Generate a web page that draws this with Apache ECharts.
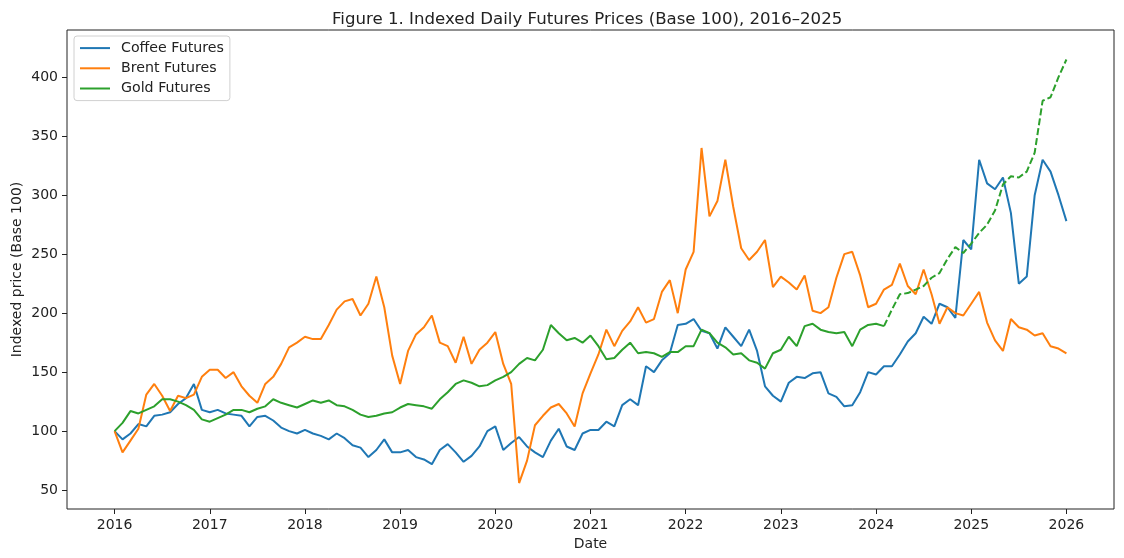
<!DOCTYPE html>
<html>
<head>
<meta charset="utf-8">
<title>Indexed Daily Futures Prices</title>
<script src="https://cdn.jsdelivr.net/npm/echarts@6/dist/echarts.min.js"></script>
<style>
  html, body { margin: 0; padding: 0; background: #fff; }
  #chart { width: 1124px; height: 558px; }
</style>
</head>
<body>
<div id="chart"></div>
<script>
// readings, one per month (Jan 2016 .. Jan 2026), base 100
const startYear = 2016;
const yearTicks = [2016, 2017, 2018, 2019, 2020, 2021, 2022, 2023, 2024, 2025, 2026];
const priceTicks = [50, 100, 150, 200, 250, 300, 350, 400];

const coffee = [
  100, 93, 98, 106, 104, 113, 114, 116, 123, 128, 140, 118,
  116, 118, 115, 114, 113, 104, 112, 113, 109, 103, 100, 98,
  101, 98, 96, 93, 98, 94, 88, 86, 78, 84, 93, 82,
  82, 84, 78, 76, 72, 84, 89, 82, 74, 79, 87, 100,
  104, 84, 90, 95, 87, 82, 78, 92, 102, 87, 84, 98,
  101, 101, 108, 104, 122, 127, 122, 155, 150, 160, 166, 190,
  191, 195, 185, 183, 170, 188, 180, 172, 186, 168, 138, 130,
  125, 141, 146, 145, 149, 150, 132, 129, 121, 122, 133, 150,
  148, 155, 155, 165, 176, 183, 197, 191, 208, 205, 196, 262,
  254, 330, 310, 305, 315, 285, 225, 231, 300, 330, 320, 300,
  278
];

const brent = [
  100, 82, 92, 102, 131, 140, 130, 117, 130, 128, 131, 146,
  152, 152, 145, 150, 138, 130, 124, 140, 146, 157, 171, 175,
  180, 178, 178, 190, 203, 210, 212, 198, 208, 231, 205, 164,
  140, 168, 182, 188, 198, 175, 172, 158, 180, 157, 169, 175,
  184, 157, 140, 56, 75, 105, 113, 120, 123, 115, 104, 132,
  149, 165, 186, 172, 185, 193, 205, 192, 195, 218, 228, 200,
  237, 252, 340, 282, 295, 330, 290, 255, 245, 252, 262, 222,
  231, 226, 220, 232, 202, 200, 205, 230, 250, 252, 232, 205,
  208, 220, 224, 242, 223, 216, 237, 216, 191, 205, 200, 198,
  208, 218, 192, 177, 168, 195, 188, 186, 181, 183, 172, 170,
  166
];

const gold = [
  100, 107, 117, 115, 118, 121, 127, 127, 125, 122, 118, 110,
  108, 111, 114, 118, 118, 116, 119, 121, 127, 124, 122, 120,
  123, 126, 124, 126, 122, 121, 118, 114, 112, 113, 115, 116,
  120, 123, 122, 121, 119, 127, 133, 140, 143, 141, 138, 139,
  143, 146, 150, 157, 162, 160, 169, 190, 183, 177, 179, 175,
  181, 172, 161, 162, 169, 175, 166, 167, 166, 163, 167, 167,
  172, 172, 186, 183, 175, 171, 165, 166, 160, 158, 153, 166,
  169, 180, 172, 189, 191, 186, 184, 183, 184, 172, 186, 190,
  191, 189, 203, 216, 217, 220, 223, 230, 234, 246, 256, 251,
  259, 268, 275, 287, 309, 316, 315, 320, 336, 380, 383, 400,
  415
];

// gold series has many missing days from Feb 2024, so it shows broken up
const goldGapsFrom = 97;

const colors = { coffee: '#1f77b4', brent: '#ff7f0e', gold: '#2ca02c' };
const textColor = '#222';
const font = 'DejaVu Sans';

const toPoints = arr => arr.map((v, i) => [startYear + i / 12, v]);
const goldPts = toPoints(gold);

const lineSeries = (name, data, color, type) => ({
  name: name,
  type: 'line',
  data: data,
  symbol: 'none',
  showSymbol: false,
  lineStyle: { width: 2, color: color, type: type || 'solid' },
  itemStyle: { color: color },
  emphasis: { disabled: true }
});

const chart = echarts.init(document.getElementById('chart'));
chart.setOption({
  animation: false,
  backgroundColor: '#fff',
  textStyle: { fontFamily: font },
  title: {
    text: 'Figure 1. Indexed Daily Futures Prices (Base 100), 2016\u20132025',
    left: 327,
    top: 6,
    textStyle: { fontSize: 16.6, fontWeight: 'normal', color: textColor, fontFamily: font }
  },
  legend: {
    data: ['Coffee Futures', 'Brent Futures', 'Gold Futures'],
    orient: 'vertical',
    left: 74,
    top: 36,
    padding: [2, 6, 2, 6],
    itemWidth: 30,
    itemHeight: 2,
    itemGap: 0,
    icon: 'rect',
    textStyle: { fontSize: 14.2, color: textColor, lineHeight: 20.2, padding: [0, 0, 0, 6], fontFamily: font },
    borderColor: '#d0d0d0',
    borderWidth: 1,
    borderRadius: 3,
    backgroundColor: 'rgba(255,255,255,0.8)'
  },
  grid: {
    left: 67, right: 10, top: 30, bottom: 49,
    show: true,
    borderColor: '#222',
    borderWidth: 1,
    backgroundColor: 'transparent',
    containLabel: false,
    outerBoundsMode: 'none'
  },
  xAxis: {
    type: 'value',
    min: 2015.5,
    max: 2026.5,
    name: 'Date',
    nameLocation: 'middle',
    nameGap: 27,
    nameTextStyle: { fontSize: 14, color: textColor },
    axisLine: { show: false },
    axisTick: { show: true, customValues: yearTicks, length: 5, lineStyle: { color: '#222' } },
    axisLabel: { customValues: yearTicks, fontSize: 14, color: textColor, margin: 9, formatter: v => String(v) },
    splitLine: { show: false }
  },
  yAxis: {
    type: 'value',
    min: 34,
    max: 440,
    name: 'Indexed price (Base 100)',
    nameLocation: 'middle',
    nameGap: 43,
    nameMoveOverlap: false,
    nameTextStyle: { fontSize: 14, color: textColor, verticalAlign: 'bottom' },
    axisLine: { show: false },
    axisTick: { show: true, customValues: priceTicks, length: 5, lineStyle: { color: '#222' } },
    axisLabel: { customValues: priceTicks, fontSize: 14, color: textColor, margin: 9, formatter: v => String(v) },
    splitLine: { show: false }
  },
  series: [
    lineSeries('Coffee Futures', toPoints(coffee), colors.coffee),
    lineSeries('Brent Futures', toPoints(brent), colors.brent),
    lineSeries('Gold Futures', goldPts.slice(0, goldGapsFrom + 1), colors.gold),
    lineSeries('Gold Futures', goldPts.slice(goldGapsFrom), colors.gold, [7, 3])
  ]
});
</script>
</body>
</html>
